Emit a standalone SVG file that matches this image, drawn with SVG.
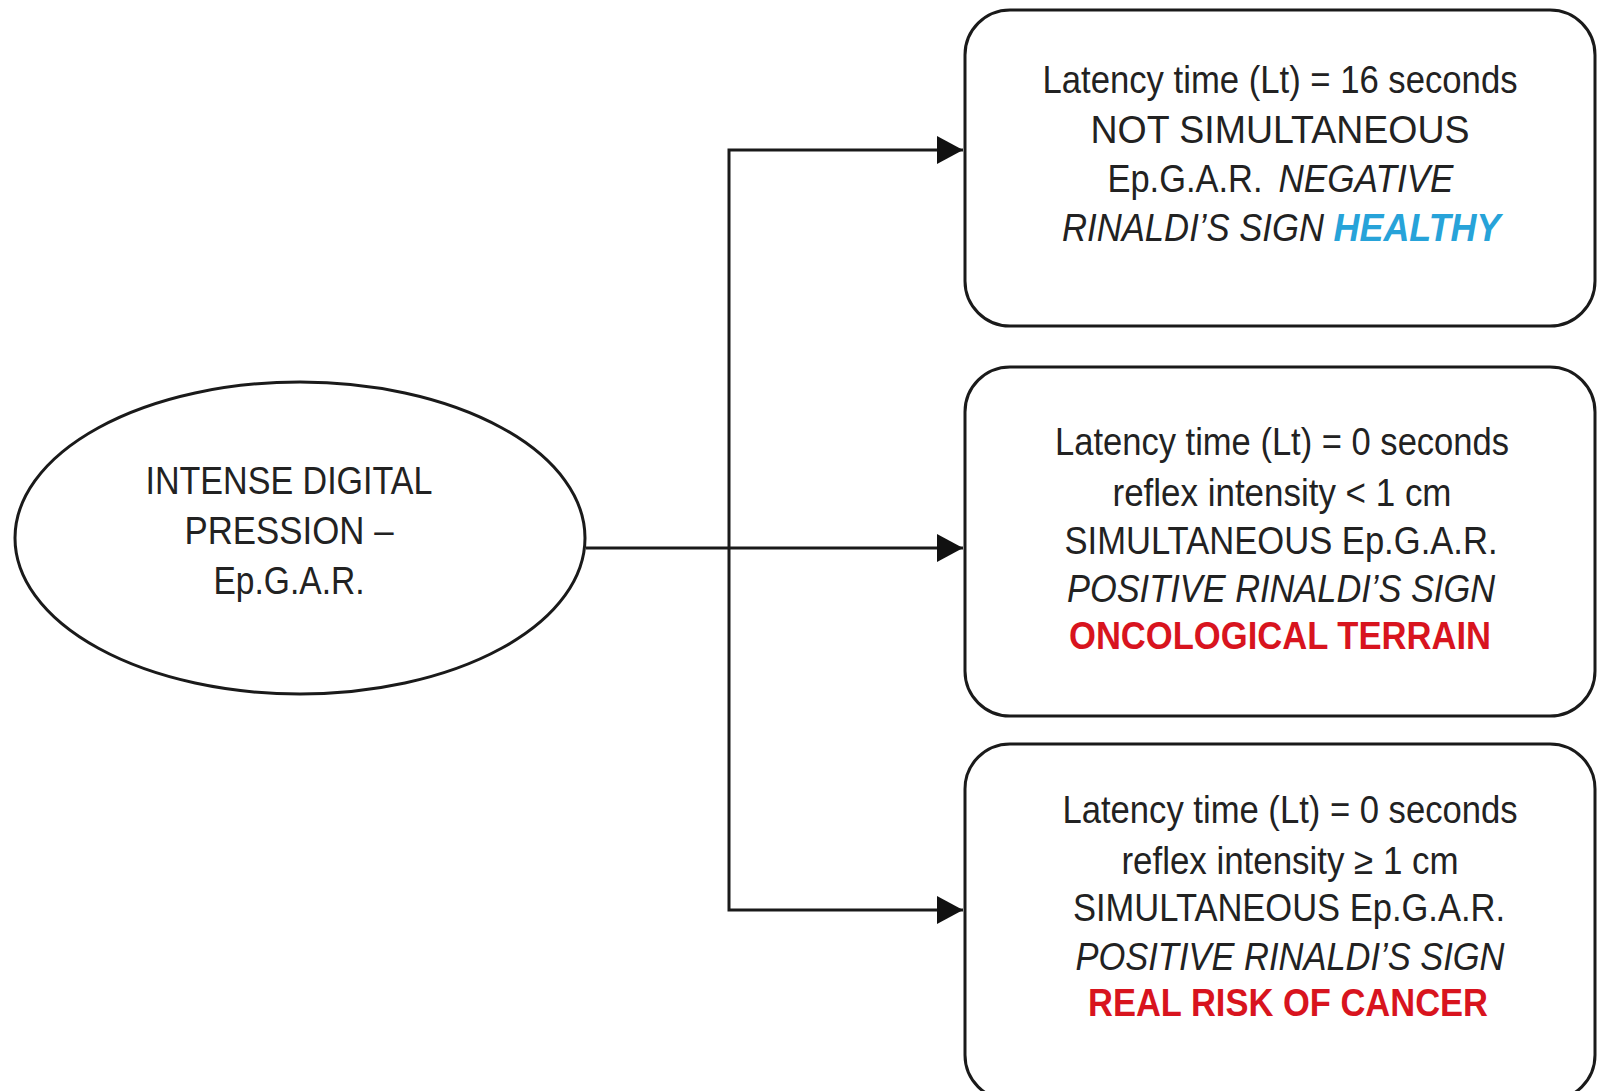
<svg xmlns="http://www.w3.org/2000/svg" width="1597" height="1091" viewBox="0 0 1597 1091">
<style>
.shape{fill:#fff;stroke:#1a1a1a;stroke-width:3}
.conn{fill:none;stroke:#1a1a1a;stroke-width:3}
text{font-family:"Liberation Sans",Arial,sans-serif;font-size:38px;fill:#222;text-anchor:middle}
.it{font-style:italic}
.red{fill:#d8141e;font-weight:bold}
.blue{fill:#27a3d9;font-weight:bold;font-style:italic}
</style>
<defs>
<marker id="arr" markerWidth="26" markerHeight="28" refX="26" refY="14" orient="auto" markerUnits="userSpaceOnUse">
<path d="M0,0 L26,14 L0,28 Z" fill="#111"/>
</marker>
</defs>
<rect width="1597" height="1091" fill="#fff"/>
<g id="connectors">
<path class="conn" d="M586,548 L963,548" marker-end="url(#arr)"/>
<path class="conn" d="M729,548 L729,150 L963,150" marker-end="url(#arr)"/>
<path class="conn" d="M729,548 L729,910 L963,910" marker-end="url(#arr)"/>
</g>
<g id="start">
<ellipse class="shape" cx="300" cy="538" rx="285" ry="156"/>
<text x="289" y="494" textLength="287" lengthAdjust="spacingAndGlyphs">INTENSE DIGITAL</text>
<text x="289" y="544" textLength="209" lengthAdjust="spacingAndGlyphs">PRESSION –</text>
<text x="289" y="594" textLength="151" lengthAdjust="spacingAndGlyphs">Ep.G.A.R.</text>
</g>
<g id="healthy">
<rect class="shape" x="965" y="10" width="630" height="316" rx="45"/>
<text x="1280" y="93" textLength="475" lengthAdjust="spacingAndGlyphs">Latency time (Lt) = 16 seconds</text>
<text x="1280" y="143" textLength="379" lengthAdjust="spacingAndGlyphs">NOT SIMULTANEOUS</text>
<text x="1185" y="192" textLength="155" lengthAdjust="spacingAndGlyphs">Ep.G.A.R.</text>
<text class="it" x="1366" y="192" textLength="175" lengthAdjust="spacingAndGlyphs">NEGATIVE</text>
<text class="it" x="1193" y="241" textLength="262" lengthAdjust="spacingAndGlyphs">RINALDI’S SIGN</text>
<text class="blue" x="1417" y="241" textLength="167" lengthAdjust="spacingAndGlyphs">HEALTHY</text>
</g>
<g id="terrain">
<rect class="shape" x="965" y="367" width="630" height="349" rx="45"/>
<text x="1282" y="455" textLength="454" lengthAdjust="spacingAndGlyphs">Latency time (Lt) = 0 seconds</text>
<text x="1282" y="506" textLength="339" lengthAdjust="spacingAndGlyphs">reflex intensity &lt; 1 cm</text>
<text x="1281" y="554" textLength="433" lengthAdjust="spacingAndGlyphs">SIMULTANEOUS Ep.G.A.R.</text>
<text class="it" x="1281" y="602" textLength="428" lengthAdjust="spacingAndGlyphs">POSITIVE RINALDI’S SIGN</text>
<text class="red" x="1280" y="649" textLength="422" lengthAdjust="spacingAndGlyphs">ONCOLOGICAL TERRAIN</text>
</g>
<g id="risk">
<rect class="shape" x="965" y="744" width="630" height="356" rx="45"/>
<text x="1290" y="823" textLength="455" lengthAdjust="spacingAndGlyphs">Latency time (Lt) = 0 seconds</text>
<text x="1290" y="874" textLength="337" lengthAdjust="spacingAndGlyphs">reflex intensity ≥ 1 cm</text>
<text x="1289" y="921" textLength="432" lengthAdjust="spacingAndGlyphs">SIMULTANEOUS Ep.G.A.R.</text>
<text class="it" x="1290" y="970" textLength="429" lengthAdjust="spacingAndGlyphs">POSITIVE RINALDI’S SIGN</text>
<text class="red" x="1288" y="1016" textLength="400" lengthAdjust="spacingAndGlyphs">REAL RISK OF CANCER</text>
</g>
</svg>
